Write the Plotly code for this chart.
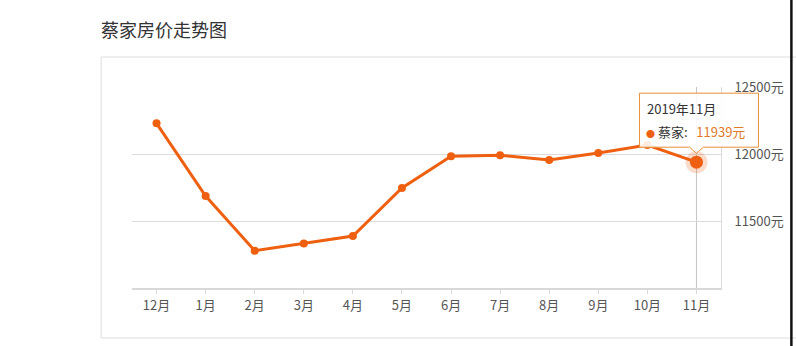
import plotly.graph_objects as go

months = ["12月", "1月", "2月", "3月", "4月", "5月", "6月", "7月", "8月", "9月", "10月", "11月"]
prices = [12229, 11686, 11278, 11333, 11388, 11746, 11983, 11990, 11955, 12007, 12067, 11939]
y_ticks = [11500, 12000, 12500]
y_tick_text = ["11500元", "12000元", "12500元"]
y_range = [11000, 12500]
series_name = "蔡家"
title_text = "蔡家房价走势图"
tooltip_title = "2019年11月"

LINE = "#ee6010"
FONT = "Noto Sans CJK SC, Noto Sans, sans-serif"

W, H = 796, 346
L, R, T, B = 132, 72, 87, 58
pw, ph = W - L - R, H - T - B

def px_x(px):
    return (px - L) / pw

def px_y(py):
    return (H - B - py) / ph

# paper position of highlighted (last) point, derived from data
n = len(months)
hi = n - 1
hx = (hi + 0.5) / n
hy = (prices[hi] - y_range[0]) / (y_range[1] - y_range[0])

fig = go.Figure()

fig.add_trace(go.Scatter(
    x=months, y=prices, mode="lines+markers",
    line=dict(color=LINE, width=3),
    marker=dict(color=LINE, size=8),
    hoverinfo="skip", showlegend=False, cliponaxis=False,
))
fig.add_trace(go.Scatter(
    x=[months[hi]], y=[prices[hi]], mode="markers",
    marker=dict(color="rgba(238,96,16,0.22)", size=22),
    hoverinfo="skip", showlegend=False, cliponaxis=False,
))
fig.add_trace(go.Scatter(
    x=[months[hi]], y=[prices[hi]], mode="markers",
    marker=dict(color=LINE, size=13),
    hoverinfo="skip", showlegend=False, cliponaxis=False,
))

shapes = []
# card
shapes.append(dict(type="rect", xref="paper", yref="paper", layer="below",
                   x0=px_x(101), x1=px_x(800), y0=px_y(338), y1=px_y(57),
                   line=dict(color="#dcdcdc", width=1), fillcolor="white"))
# crosshair
shapes.append(dict(type="line", xref="x", yref="paper", x0=hi, x1=hi, y0=0, y1=1,
                   layer="below", line=dict(color="#c4c4c4", width=1)))
# right dark strip
shapes.append(dict(type="rect", xref="paper", yref="paper", layer="above",
                   x0=px_x(793.5), x1=px_x(796), y0=px_y(346), y1=px_y(0),
                   line=dict(width=0), fillcolor="#111"))
# tooltip box with pointer (pixel coords relative to highlighted point)
tip_path = "M -57,15 L -7,15 L 0,9 L 7,15 L 62,15 L 62,69 L -57,69 Z"
shapes.append(dict(type="path", xref="paper", yref="paper",
                   xsizemode="pixel", ysizemode="pixel",
                   xanchor=hx, yanchor=hy,
                   path=tip_path, layer="above",
                   line=dict(color="#e8903a", width=1),
                   fillcolor="rgba(255,255,255,0.88)"))

annotations = [
    dict(text=title_text, xref="paper", yref="paper", x=px_x(99), y=px_y(29),
         xanchor="left", yanchor="middle", showarrow=False,
         font=dict(family=FONT, size=18, color="#333")),
    dict(text=tooltip_title, xref="paper", yref="paper", x=hx, y=hy,
         xshift=-51, yshift=54, xanchor="left", yanchor="middle", showarrow=False,
         font=dict(family=FONT, size=13, color="#333")),
    dict(text=("<span style='color:%s;font-size:9px'>●</span> %s:&nbsp;&nbsp;&nbsp;"
               "<span style='color:#e07a2a'>%d元</span>") % (LINE, series_name, prices[hi]),
         xref="paper", yref="paper", x=hx, y=hy,
         xshift=-52, yshift=31, xanchor="left", yanchor="middle", showarrow=False,
         font=dict(family=FONT, size=13, color="#333")),
]

fig.update_layout(
    width=W, height=H,
    margin=dict(l=L, r=R, t=T, b=B, pad=0),
    paper_bgcolor="white", plot_bgcolor="rgba(0,0,0,0)",
    font=dict(family=FONT, size=13, color="#555"),
    shapes=shapes, annotations=annotations,
    xaxis=dict(type="category", range=[-0.5, n - 0.5], showgrid=False,
               showline=True, linecolor="#d8d8d8", linewidth=2,
               ticks="outside", ticklen=4, tickcolor="#d8d8d8",
               tickfont=dict(family=FONT, size=13, color="#555"),
               zeroline=False, fixedrange=True),
    yaxis=dict(range=y_range, side="right", tickvals=y_ticks,
               ticktext=y_tick_text, showgrid=True, gridcolor="#dcdcdc",
               showline=True, linecolor="#dcdcdc", linewidth=1,
               ticks="", ticklabelstandoff=10, zeroline=False,
               tickfont=dict(family=FONT, size=13, color="#555"), fixedrange=True),
)

fig.write_html("out.html", config={"displayModeBar": False})
